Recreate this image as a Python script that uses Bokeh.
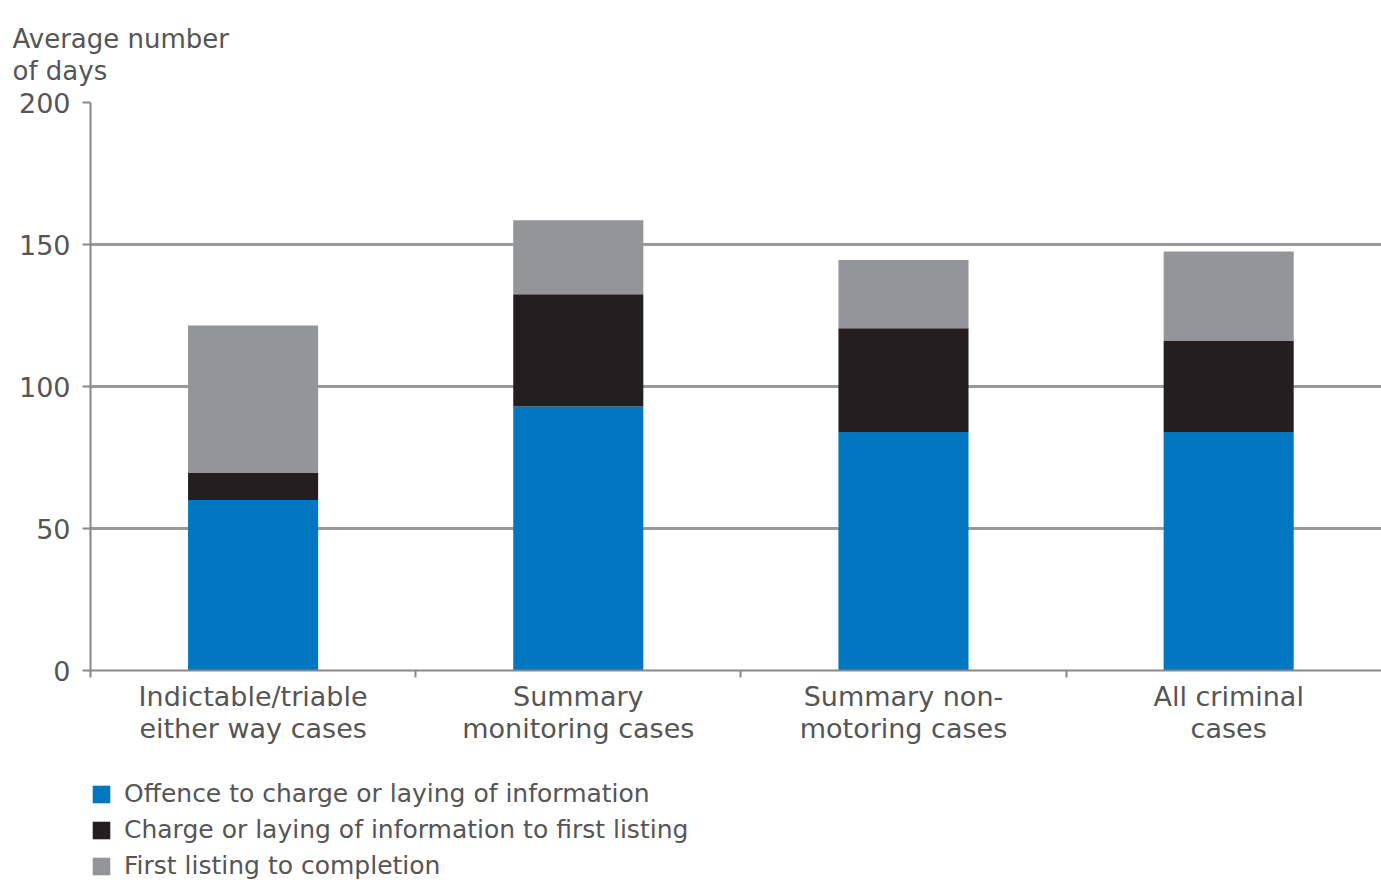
from bokeh.plotting import figure
from bokeh.layouts import column
from bokeh.models import (Range1d, FixedTicker, Legend, LegendItem, Title,
                          ColumnDataSource)
from bokeh.embed import file_html
from bokeh.resources import INLINE

categories = ["Indictable/triable\neither way cases", "Summary\nmonitoring cases",
              "Summary non-\nmotoring cases", "All criminal\ncases"]
offence = [60, 93, 84, 84]
charge = [9.5, 39.5, 36.5, 32]
listing = [52, 26, 24, 31.5]
series_names = ["Offence to charge or laying of information",
                "Charge or laying of information to first listing",
                "First listing to completion"]
colors = ["#0077c0", "#231f20", "#939598"]
y_ticks = [0, 50, 100, 150, 200]

FONT = "DejaVu Sans"
TXT = "#555555"

W = 1381
H1, H2 = 775, 105
p = figure(width=W, height=H1, output_backend="svg", toolbar_location=None,
           x_range=Range1d(0, 3.97), y_range=Range1d(0, 200),
           min_border_left=90, min_border_right=0, min_border_top=102,
           min_border_bottom=105, outline_line_color=None,
           background_fill_color="white", border_fill_color="white")

xs = [i + 0.5 for i in range(len(categories))]
src = ColumnDataSource(dict(x=xs, offence=offence, charge=charge, listing=listing))
p.vbar_stack(["offence", "charge", "listing"], x="x", width=0.4, source=src,
             color=colors, line_color=None)

# caption of the value axis
p.title = Title(text="Average number\nof days", align="left", offset=-78,
                text_font=FONT, text_font_size="26px", text_font_style="normal",
                text_color=TXT, standoff=34, text_line_height=1.05)

# x axis
p.xaxis.ticker = FixedTicker(ticks=xs, minor_ticks=[0, 1, 2, 3])
p.xaxis.major_label_overrides = {x: c for x, c in zip(xs, categories)}
p.xaxis.major_tick_line_color = None
p.xaxis.minor_tick_line_color = "#888888"
p.xaxis.minor_tick_line_width = 2
p.xaxis.minor_tick_out = 7
p.xaxis.minor_tick_in = 0
p.xaxis.axis_line_color = "#888888"
p.xaxis.axis_line_width = 2
p.xaxis.major_label_text_font = FONT
p.xaxis.major_label_text_font_size = "27px"
p.xaxis.major_label_text_color = TXT
p.xaxis.major_label_text_line_height = 1.05
p.xaxis.major_label_standoff = 3

# y axis
p.yaxis.ticker = FixedTicker(ticks=y_ticks)
p.yaxis.minor_tick_line_color = None
p.yaxis.major_tick_line_color = "#888888"
p.yaxis.major_tick_line_width = 2
p.yaxis.major_tick_out = 8
p.yaxis.major_tick_in = 0
p.yaxis.axis_line_color = "#888888"
p.yaxis.axis_line_width = 2
p.yaxis.major_label_text_font = FONT
p.yaxis.major_label_text_font_size = "27px"
p.yaxis.major_label_text_color = TXT
p.yaxis.major_label_standoff = 12

p.xgrid.grid_line_color = None
p.ygrid.ticker = FixedTicker(ticks=y_ticks)
p.ygrid.grid_line_color = "#999999"
p.ygrid.grid_line_width = 3

# legend strip below the chart
q = figure(width=W, height=H2, output_backend="svg", toolbar_location=None,
           x_range=Range1d(0, 1), y_range=Range1d(0, 1),
           x_axis_type=None, y_axis_type=None,
           min_border_left=90, min_border_right=0, min_border_top=4,
           min_border_bottom=0, outline_line_color=None,
           background_fill_color="white", border_fill_color="white")
q.grid.visible = False
# swatches only: their single bars sit outside the strip's visible range
dummy = [q.vbar(x=[5], top=[5], width=0.1, color=c, line_color=None) for c in colors]
legend = Legend(items=[LegendItem(label=n, renderers=[r]) for n, r in zip(series_names, dummy)],
                orientation="vertical", location="top_left",
                label_text_font=FONT, label_text_font_size="25px",
                label_text_color=TXT, glyph_width=22, glyph_height=22,
                label_height=26, spacing=7, padding=0, margin=0,
                border_line_color=None, background_fill_alpha=0,
                label_standoff=12)
q.add_layout(legend, "center")

layout = column(p, q, spacing=0)
open("out.html", "w").write(file_html(layout, INLINE))
